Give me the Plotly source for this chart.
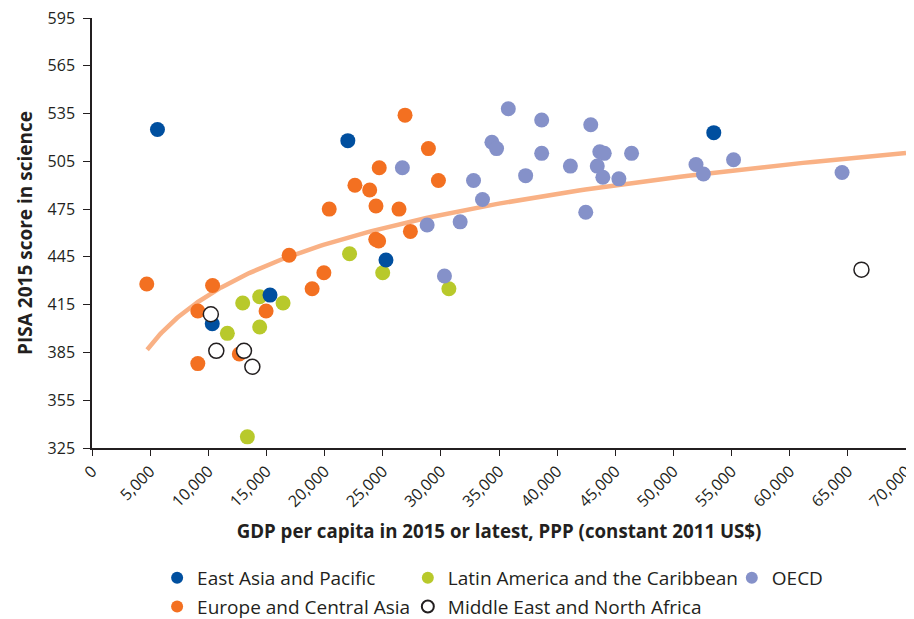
import numpy as np
import plotly.graph_objects as go

# GDP per capita (PPP, constant 2011 US$) and PISA 2015 science score, by region
east_asia_gdp = [5630, 22000, 53470, 25280, 15310, 10340]
east_asia_pisa = [525, 518, 523, 443, 421, 403]

europe_gdp = [4710, 9100, 10370, 9100, 12670, 14970, 16950, 18930, 19940, 20400,
              22610, 23880, 24420, 24400, 24650, 24700, 26920, 26400, 27380, 28930, 29790]
europe_pisa = [428, 411, 427, 378, 384, 411, 446, 425, 435, 475,
               490, 487, 477, 456, 455, 501, 534, 475, 461, 513, 493]

latam_gdp = [11640, 12960, 14420, 14420, 16430, 13360, 22150, 25000, 30690]
latam_pisa = [397, 416, 420, 401, 416, 332, 447, 435, 425]

mena_gdp = [10220, 10690, 13070, 13790, 66170]
mena_pisa = [409, 386, 386, 376, 437]

oecd_gdp = [35800, 38670, 42890, 34390, 34790, 38670, 43670, 44050, 46400, 41140,
            43450, 43930, 45310, 37290, 32810, 26690, 33580, 28820, 31660, 42460,
            30310, 51940, 52580, 55170, 64500]
oecd_pisa = [538, 531, 528, 517, 513, 510, 511, 510, 510, 502,
             502, 495, 494, 496, 493, 501, 481, 465, 467, 473,
             433, 503, 497, 506, 498]

# logarithmic trend as drawn in the source: score = a + b * ln(gdp)
trend_a = -1.5
trend_b = 45.87
trend_range = [4740, 70000]

x_ticks = list(range(0, 70001, 5000))
y_ticks = list(range(325, 596, 30))

INK = "#231f20"
FONT = "Open Sans"

trend_x = np.geomspace(trend_range[0], trend_range[1], 200)
trend_y = trend_a + trend_b * np.log(trend_x)

fig = go.Figure()

fig.add_trace(go.Scatter(
    x=trend_x, y=trend_y, mode="lines",
    line=dict(color="#f9b185", width=4.5),
    showlegend=False, hoverinfo="skip",
))

series = [
    ("Latin America and the Caribbean", latam_gdp, latam_pisa, "#b8c92b", None, "legend2"),
    ("OECD", oecd_gdp, oecd_pisa, "#8591c9", None, "legend3"),
    ("Europe and Central Asia", europe_gdp, europe_pisa, "#f37021", None, "legend"),
    ("East Asia and Pacific", east_asia_gdp, east_asia_pisa, "#004f9f", None, "legend"),
    ("Middle East and North Africa", mena_gdp, mena_pisa, "#ffffff", INK, "legend2"),
]
rank = {
    "East Asia and Pacific": 1,
    "Europe and Central Asia": 2,
    "Latin America and the Caribbean": 1,
    "Middle East and North Africa": 2,
    "OECD": 1,
}

for name, xs, ys, color, edge, leg in series:
    fig.add_trace(go.Scatter(
        x=xs, y=ys, mode="markers", name=name,
        marker=dict(size=15, color=color,
                    line=dict(color=edge if edge else color, width=1.5 if edge else 0)),
        legend=leg, legendrank=rank[name], legendgroup=name,
    ))

legend_common = dict(
    orientation="v", yanchor="top", xanchor="left",
    font=dict(family=FONT, size=19, color=INK),
    bgcolor="rgba(0,0,0,0)", tracegroupgap=1, itemsizing="constant",
)

# the page adds an 8px body margin, so the figure is sized to fit inside it
fig.update_layout(
    width=906, height=611, autosize=False,
    margin=dict(l=84, r=8, t=10, b=171, autoexpand=False),
    plot_bgcolor="white", paper_bgcolor="white",
    font=dict(family=FONT, size=16, color=INK),
    xaxis=dict(
        range=[0, 70000], tickvals=x_ticks, tickformat=",d", tickangle=-45,
        showgrid=False, zeroline=False, showline=True, linecolor=INK, linewidth=1.5,
        ticks="outside", ticklen=6, tickcolor=INK, automargin=False,
        ticklabeloverflow="allow",
        tickfont=dict(family=FONT, size=16, color=INK),
        title=dict(text="<b>GDP per capita in 2015 or latest, PPP (constant 2011 US$)</b>",
                   font=dict(family=FONT, size=18.7, color=INK), standoff=14),
    ),
    yaxis=dict(
        range=[325, 595], tickvals=y_ticks,
        showgrid=False, zeroline=False, showline=True, linecolor=INK, linewidth=1.5,
        ticks="outside", ticklen=7, tickcolor=INK, automargin=False, ticklabelstandoff=5,
        ticklabeloverflow="allow",
        tickfont=dict(family=FONT, size=16, color=INK),
        title=dict(text="<b>PISA 2015 score in science</b>",
                   font=dict(family=FONT, size=19, color=INK), standoff=10),
    ),
    legend=dict(x=0.080, y=-0.258, **legend_common),
    legend2=dict(x=0.388, y=-0.258, **legend_common),
    legend3=dict(x=0.786, y=-0.258, **legend_common),
)

fig.write_html("out.html")
